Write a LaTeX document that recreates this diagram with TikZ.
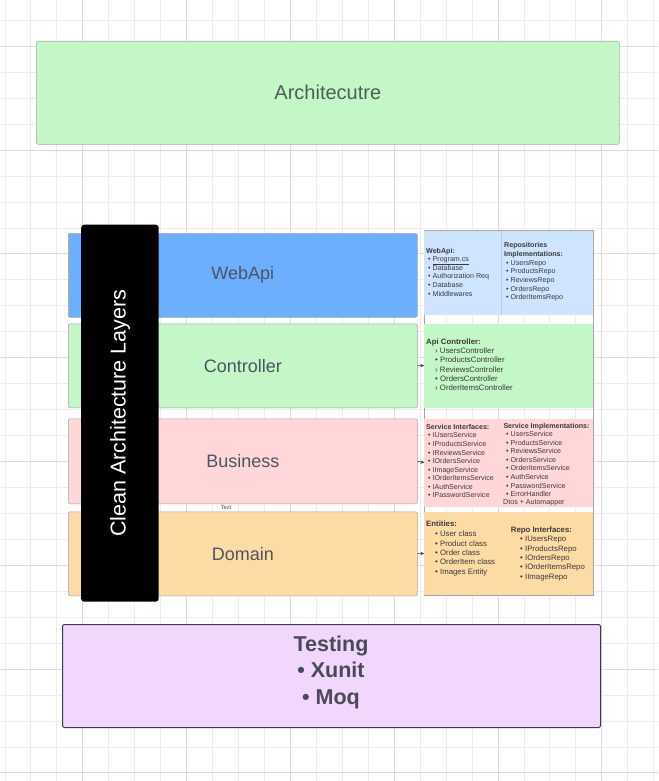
\documentclass[tikz,border=0pt]{standalone}
\usepackage{fontspec}
\setmainfont{Liberation Sans}
\usetikzlibrary{arrows.meta}
\definecolor{gridminor}{HTML}{EDEDED}
\definecolor{gridmajor}{HTML}{DCDCDC}
\definecolor{archfill}{HTML}{C3F7C8}
\definecolor{archline}{HTML}{9DB5A2}
\definecolor{bluefill}{HTML}{6BAFFE}
\definecolor{greenfill}{HTML}{C3F7C8}
\definecolor{pinkfill}{HTML}{FFD7D9}
\definecolor{orangefill}{HTML}{FDDBA5}
\definecolor{lightblue}{HTML}{CFE4FF}
\definecolor{divblue}{HTML}{B5CDEB}
\definecolor{testfill}{HTML}{F2D7FD}
\definecolor{testline}{HTML}{3A3A48}
\definecolor{boxline}{HTML}{A6A6A6}
\definecolor{labeltxt}{HTML}{4C5462}
\definecolor{archtxt}{HTML}{505C56}
\definecolor{smalltxt}{HTML}{3A3A3A}
\definecolor{testtxt}{HTML}{4A4A58}
\tikzset{
  gridlineminor/.style={draw=gridminor, line width=0.8pt},
  gridlinemajor/.style={draw=gridmajor, line width=0.9pt},
  layerbox/.style={rectangle, rounded corners=2pt, draw=boxline, line width=0.6pt,
    anchor=north west, inner sep=0pt, text=labeltxt, font=\fontsize{18}{20}\selectfont},
  infobox/.style={rectangle, anchor=north west, inner sep=0pt, draw=none},
  itm/.style={anchor=mid west, inner sep=0pt, text=smalltxt, font=\fontsize{7.1}{8.6}\selectfont},
  itmb/.style={itm, font=\fontsize{7.1}{8.6}\selectfont\bfseries},
  itmL/.style={itm, font=\fontsize{7.8}{9}\selectfont},
  itmLb/.style={itm, font=\fontsize{7.8}{9}\selectfont\bfseries},
  conn/.style={draw=smalltxt, line width=0.6pt, -{Stealth[length=3.5pt,width=3.5pt]}}
}
\begin{document}
\begin{tikzpicture}[x=1pt,y=-1pt]
\useasboundingbox (0,0) rectangle (658,781);
\fill[white] (0,0) rectangle (658,781);
% grid
\foreach \k in {0,...,25} \draw[gridlineminor] ({4.9+25.95*\k},0) -- ++(0,781);
\foreach \k in {0,...,29} \draw[gridlineminor] (0,{20.3+25.95*\k}) -- ++(658,0);
\foreach \k in {3,7,11,15,19,23} \draw[gridlinemajor] ({4.9+25.95*\k},0) -- ++(0,781);
\foreach \k in {1,5,9,13,17,21,25,29} \draw[gridlinemajor] (0,{20.3+25.95*\k}) -- ++(658,0);

% title
\node[layerbox, draw=archline, fill=archfill, minimum width=583pt, minimum height=103pt,
  text=archtxt, font=\fontsize{20}{22}\selectfont] (arch) at (36,41) {Architecutre};

% left layers
\node[layerbox, fill=bluefill, minimum width=349pt, minimum height=84pt] (webapi) at (68,233) {WebApi};
\node[layerbox, fill=greenfill, minimum width=349pt, minimum height=84pt] (ctrl) at (68,323.5) {Controller};
\node[layerbox, fill=pinkfill, minimum width=349pt, minimum height=85pt] (bus) at (68,418.5) {Business};
\node[layerbox, fill=orangefill, minimum width=349pt, minimum height=84pt] (dom) at (68,511.5) {Domain};

% black vertical bar
\node[rectangle, rounded corners=3pt, fill=black, anchor=north west, inner sep=0pt,
  minimum width=77.5pt, minimum height=377pt] (bar) at (81,224.5) {};
\node[rotate=90, text=white, inner sep=0pt, font=\fontsize{21.5}{23}\selectfont] (bartxt) at (bar.center) {Clean Architecture Layers};

\node[inner sep=0pt, text=labeltxt, font=\fontsize{6}{7}\selectfont] (txtlbl) at (226,507.5) {Text};

% right info container outline
\draw[draw=boxline, line width=0.6pt] (424,230.5) rectangle (593,595);
\node[infobox, fill=lightblue, minimum width=169pt, minimum height=84pt] (webR) at (424,230.5) {};
\node[infobox, fill=greenfill, minimum width=169pt, minimum height=84pt] (ctrlR) at (424,323.3) {};
\node[infobox, fill=pinkfill, minimum width=169pt, minimum height=88pt] (busR) at (424,418.5) {};
\node[infobox, fill=orangefill, minimum width=169pt, minimum height=83.5pt] (domR) at (424,511.5) {};
\draw[divblue, line width=0.6pt] (webR.north west) ++(77.7,0) coordinate (divtop) -- ++(0,84) coordinate (divbot);

% WebApi info
\node[itmb] (wah) at (426,250.5) {WebApi:};
\node[itm] (wa1) at (428,259) {• \underline{Program.cs}};
\foreach \t [count=\i from 2] in {Database, Authorization Req, Database, Middlewares}
  \node[itm] (wa\i) at (428,{259+8.6*(\i-1)}) {• \t};
\node[itmb] (rih1) at (504,244.7) {Repositories};
\node[itmb] (rih2) at (504,253.5) {Implementations:};
\foreach \t [count=\i] in {UsersRepo, ProductsRepo, ReviewsRepo, OrdersRepo, OrderItemsRepo}
  \node[itm] (ri\i) at (506,{262.7+8.65*(\i-1)}) {• \t};

% Controller info
\node[itmLb] (ach) at (426,341.7) {Api Controller:};
\node[itmL] (ac1) at (435,350.7) {› UsersController};
\node[itmL] (ac2) at (435,360.1) {• ProductsController};
\node[itmL] (ac3) at (435,369.5) {› ReviewsController};
\node[itmL] (ac4) at (435,378.9) {• OrdersController};
\node[itmL] (ac5) at (435,388.3) {› OrderItemsController};

% Business info
\node[itmb] (sih) at (426,427) {Service Interfaces:};
\foreach \t [count=\i] in {IUsersService, IProductsService, IReviewsService, IOrdersService, IImageService, IOrderItemsService, IAuthService, IPasswordService}
  \node[itm] (si\i) at (428,{435.3+8.57*(\i-1)}) {• \t};
\node[itmb] (simh) at (503.3,426) {Service Implementations:};
\foreach \t [count=\i] in {UsersService, ProductsService, ReviewsService, OrdersService, OrderItemsService, AuthService, PasswordService, ErrorHandler}
  \node[itm] (sim\i) at (506,{434+8.57*(\i-1)}) {• \t};
\node[itm] (dtos) at (503,502.2) {Dtos + Automapper};

% Domain info
\node[itmLb] (enh) at (426,524.3) {Entities:};
\foreach \t [count=\i] in {User class, Product class, Order class, OrderItem class, Images Entity}
  \node[itmL] (en\i) at (435,{534.3+9.35*(\i-1)}) {• \t};
\node[itmLb] (rph) at (510.7,530) {Repo Interfaces:};
\foreach \t [count=\i] in {IUsersRepo, IProductsRepo, IOrdersRepo, IOrderItemsRepo, IImageRepo}
  \node[itmL] (rp\i) at (520,{539+9.4*(\i-1)}) {• \t};

% connectors
\draw[conn] (ctrl.east) -- (ctrlR.west);
\draw[conn] (bus.east) -- (busR.west);
\draw[conn] (dom.east) -- (domR.west);

% testing
\node[layerbox, draw=testline, line width=1pt, fill=testfill, minimum width=538pt, minimum height=103pt] (test) at (62,624) {};
\node[inner sep=0pt, align=center, text=testtxt, font=\fontsize{21.5}{26.5}\selectfont\bfseries] (testtxt) at (331,672) {Testing\\• Xunit\\• Moq};
\end{tikzpicture}
\end{document}
